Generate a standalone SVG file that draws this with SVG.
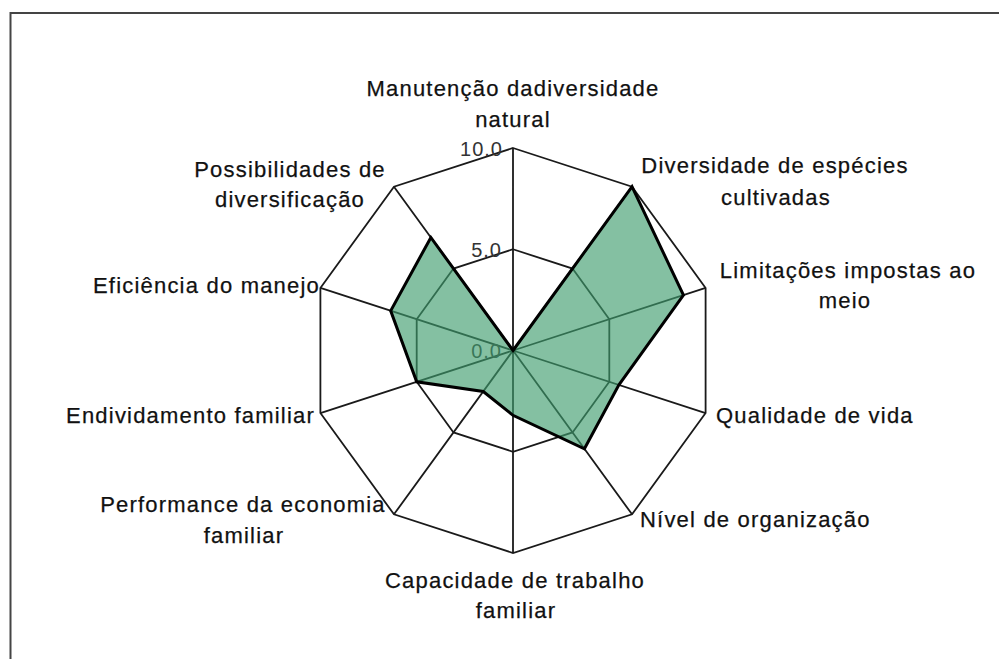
<svg xmlns="http://www.w3.org/2000/svg" width="999" height="659" viewBox="0 0 999 659">
<style>
.lbl{font-family:"Liberation Sans",Arial,sans-serif;font-size:22px;letter-spacing:1.2px;fill:#111;stroke:#111;stroke-width:0.25}
.tick{font-family:"Liberation Sans",Arial,sans-serif;font-size:20px;letter-spacing:1px;fill:#333}
.grid{fill:none;stroke:#1a1a1a;stroke-width:1.8;stroke-linejoin:miter}
.mid{text-anchor:middle}
.end{text-anchor:end}
</style>
<rect width="999" height="659" fill="#fff"/>
<path id="frame" d="M10.5 670 V13 H1005" fill="none" stroke="#444" stroke-width="2"/>
<g id="grid" class="grid">
<polygon points="513,148 632.03,186.68 705.6,287.93 705.6,413.07 632.03,514.32 513,553 393.97,514.32 320.4,413.07 320.4,287.93 393.97,186.68"/>
<polygon points="513,249.25 572.52,268.59 609.3,319.21 609.3,381.79 572.52,432.41 513,451.75 453.48,432.41 416.7,381.79 416.7,319.21 453.48,268.59"/>
<path d="M513 350.5 L513 148 M513 350.5 L632.03 186.68 M513 350.5 L705.6 287.93 M513 350.5 L705.6 413.07 M513 350.5 L632.03 514.32 M513 350.5 L513 553 M513 350.5 L393.97 514.32 M513 350.5 L320.4 413.07 M513 350.5 L320.4 287.93 M513 350.5 L393.97 186.68"/>
</g>
<g id="ticks" class="tick end">
<text x="503" y="155.5">10.0</text>
<text x="502" y="256.5">5.0</text>
<text x="502" y="358">0.0</text>
</g>
<g id="series">
<polygon points="513,350.5 632.03,186.68 683.45,295.13 618.93,384.91 584.42,448.79 513,415.3 483.24,391.46 416.7,381.79 390.7,310.77 430.87,237.46" fill="#3e9c6d" fill-opacity="0.64" stroke="#000" stroke-width="3" stroke-linejoin="miter"/>
</g>
<g id="labels" class="lbl">
<g id="lbl-manutencao" class="mid"><text x="513" y="96">Manutenção dadiversidade</text><text x="513" y="127">natural</text></g>
<g id="lbl-diversidade" class="mid"><text x="775" y="173">Diversidade de espécies</text><text x="776" y="204.5">cultivadas</text></g>
<g id="lbl-limitacoes" class="mid"><text x="848" y="278">Limitações impostas ao</text><text x="845" y="308">meio</text></g>
<g id="lbl-qualidade"><text x="716" y="422.5">Qualidade de vida</text></g>
<g id="lbl-nivel"><text x="640" y="526.5">Nível de organização</text></g>
<g id="lbl-capacidade" class="mid"><text x="515" y="588">Capacidade de trabalho</text><text x="516" y="618">familiar</text></g>
<g id="lbl-performance" class="mid"><text x="243" y="511.5">Performance da economia</text><text x="244" y="543">familiar</text></g>
<g id="lbl-endividamento" class="end"><text x="315" y="423">Endividamento familiar</text></g>
<g id="lbl-eficiencia" class="end"><text x="320" y="292.5">Eficiência do manejo</text></g>
<g id="lbl-possibilidades" class="mid"><text x="290" y="176.5">Possibilidades de</text><text x="290" y="206.5">diversificação</text></g>
</g>
</svg>
